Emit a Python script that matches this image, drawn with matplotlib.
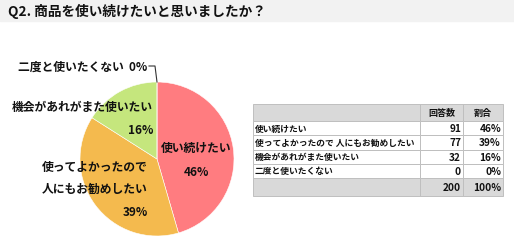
import matplotlib.pyplot as plt
from matplotlib.patches import Rectangle

plt.rcParams['font.family'] = ['Noto Sans CJK JP', 'DejaVu Sans']

# Datos
titulo = "Q2. 商品を使い続けたいと思いましたか？"
categorias = ["使い続けたい", "使ってよかったので 人にもお勧めしたい",
              "機会があれがまた使いたい", "二度と使いたくない"]
respuestas = [91, 77, 32, 0]
porcentajes = [46, 39, 16, 0]
total = 200
colores = ["#FF7C80", "#F4BA4E", "#C5E67D", "#9DC3E6"]

W, H = 514, 253
fig = plt.figure(figsize=(W / 100, H / 100), dpi=100)

# Barra del título
fig.patches.append(Rectangle((0, 1 - 22 / H), 1, 22 / H, transform=fig.transFigure,
                             color="#F2F2F2", zorder=0))
fig.text(8 / W, 1 - 11 / H, titulo, fontsize=9.8, fontweight="bold", va="center",
         color="#111111")

# Pastel
cx, cy, r = 157, 160, 77
ax = fig.add_axes([(cx - r) / W, (H - cy - r) / H, 2 * r / W, 2 * r / H])
ax.pie(respuestas, colors=colores, startangle=90, counterclock=False,
       wedgeprops=dict(linewidth=0.4, edgecolor="white"), radius=1)
ax.set_xlim(-1, 1)
ax.set_ylim(-1, 1)
ax.set_aspect("auto")
ax.axis("off")


def p(px, py):
    return ((px - cx) / r, (cy - py) / r)


kw = dict(fontsize=8.5, fontweight="bold", color="#111111", clip_on=False)
ax.text(*p(196, 148), "使い続けたい", ha="center", va="center", **kw)
ax.text(*p(196, 172), f"{porcentajes[0]}%", ha="center", va="center", **kw)
ax.text(*p(148, 167), "使ってよかったので", ha="right", va="center", **kw)
ax.text(*p(148, 189), "人にもお勧めしたい", ha="right", va="center", **kw)
ax.text(*p(148, 213), f"{porcentajes[1]}%", ha="right", va="center", **kw)
ax.text(*p(153, 108), categorias[2], ha="right", va="center", **kw)
ax.text(*p(153, 130), f"{porcentajes[2]}%", ha="right", va="center", **kw)
ax.text(*p(147, 67), f"{categorias[3]}  {porcentajes[3]}%", ha="right", va="center", **kw)
lx = [p(149, 67)[0], p(155, 67)[0], p(157, 83)[0]]
ly = [p(149, 67)[1], p(155, 67)[1], p(157, 83)[1]]
ax.plot(lx, ly, color="#333333", linewidth=0.8, clip_on=False)

# Tabla
tx0, tx1, tx2, tx3 = 253, 420, 463, 503
filas_y = [105, 122, 136, 151, 165, 179, 197]
gris = "#D9D9D9"
borde = "#BFBFBF"


def rect(x0, y0, x1, y1, fc):
    fig.patches.append(Rectangle((x0 / W, 1 - y1 / H), (x1 - x0) / W, (y1 - y0) / H,
                                 transform=fig.transFigure, facecolor=fc,
                                 edgecolor=borde, linewidth=0.7))


tkw = dict(fontweight="bold", color="#111111", va="center")
filas = [("", "回答数", "割合")]
for c, n, pc in zip(categorias, respuestas, porcentajes):
    filas.append((c, str(n), f"{pc}%"))
filas.append(("", str(total), "100%"))

for i, (c, n, pc) in enumerate(filas):
    y0, y1 = filas_y[i], filas_y[i + 1]
    fc = gris if i in (0, len(filas) - 1) else "white"
    for a, b in [(tx0, tx1), (tx1, tx2), (tx2, tx3)]:
        rect(a, y0, b, y1, fc)
    ym = 1 - (y0 + y1) / 2 / H
    if i == 0:
        fig.text((tx1 + tx2) / 2 / W, ym, n, ha="center", fontsize=6.5, **tkw)
        fig.text((tx2 + tx3) / 2 / W, ym, pc, ha="center", fontsize=6.5, **tkw)
    else:
        fig.text((tx0 + 2) / W, ym, c, ha="left", fontsize=6.3, **tkw)
        fig.text((tx2 - 2) / W, ym, n, ha="right", fontsize=7.3, **tkw)
        fig.text((tx3 - 2) / W, ym, pc, ha="right", fontsize=7.3, **tkw)

fig.savefig("out.png", dpi=100)
